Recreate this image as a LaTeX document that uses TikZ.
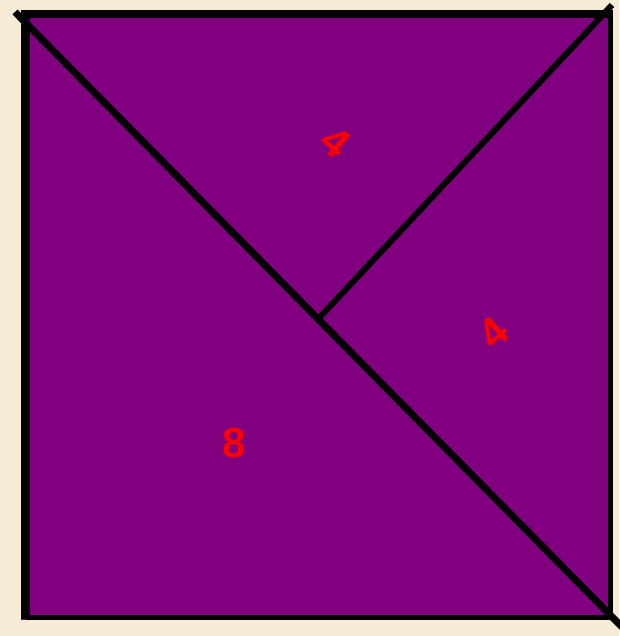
\documentclass[tikz,border=0pt]{standalone}
\usepackage{fontspec}
\setmainfont{Liberation Sans}
\definecolor{cream}{HTML}{F6ECD6}
\definecolor{piece}{HTML}{800080}
\definecolor{digit}{HTML}{FF0000}
\tikzset{
  edge/.style={line width=#1, draw=black},
  cut/.style={line width=7pt, draw=black},
  cut2/.style={line width=6pt, draw=black},
  area/.style={font=\fontsize{42}{42}\selectfont\bfseries, text=digit, inner sep=0pt}
}
\begin{document}
\begin{tikzpicture}[x=1pt,y=-1pt]
\useasboundingbox (0,0) rectangle (619,636);
\fill[cream] (0,0) rectangle (619,636);
\fill[piece] (21,10) rectangle (613,620);
% frame
\draw[edge=9pt] (25.5,10) -- (25.5,619);
\draw[edge=8pt] (21,14) -- (613,14);
\draw[edge=5pt] (610.5,10) -- (610.5,620);
\draw[edge=5pt] (26,617.5) -- (613,617.5);
% cuts
\coordinate (tl) at (15,12);
\coordinate (br) at (624,629);
\coordinate (tr) at (612,5);
\coordinate (mid) at (319,318);
\draw[cut] (tl) -- (br);
\draw[cut2] (tr) -- (mid);
% labels
\node[area, rotate=-40] (l1) at (336,142) {4};
\node[area, rotate=42] (l2) at (494,333) {4};
\node[area] (l3) at (234,443) {8};
\end{tikzpicture}
\end{document}
